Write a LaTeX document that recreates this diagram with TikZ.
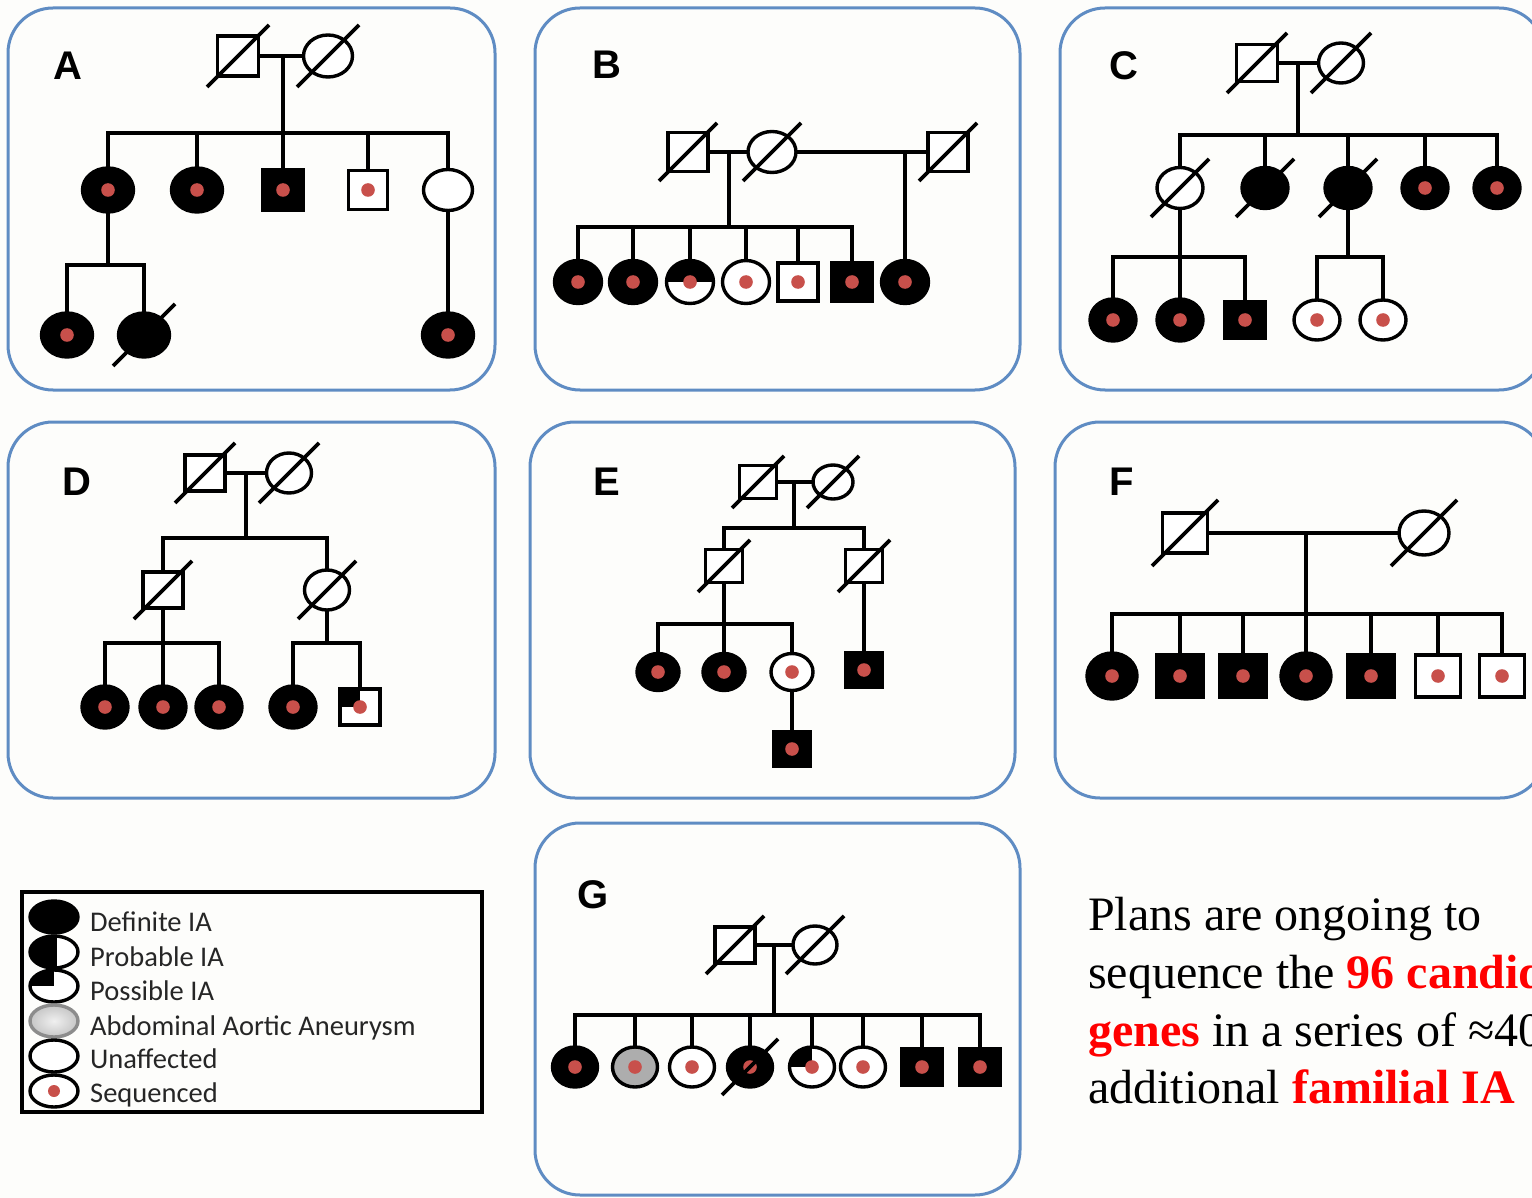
\documentclass[tikz,border=0pt]{standalone}
\usepackage{fontspec}
\setmainfont{Liberation Serif}
\newfontfamily\labfont{Liberation Sans}
\newfontfamily\legfont{Carlito}
\usetikzlibrary{shapes.geometric,calc}
\definecolor{dotred}{RGB}{200,80,75}
\definecolor{panelblue}{RGB}{95,140,195}
\definecolor{bgc}{RGB}{253,253,251}
\definecolor{aaaline}{RGB}{140,140,140}
\newcommand\dslash[2]{\draw[ln] ([shift={(-#2,#2)}]#1.center) -- ([shift={(#2,-#2)}]#1.center);}
\begin{document}
\begin{tikzpicture}[x=1pt,y=-1pt,
  ln/.style={line width=3.8pt, line join=miter},
  panel/.style={draw=panelblue, line width=3pt, rounded corners=45pt},
  sym/.style={draw=black, line width=3.4pt, inner sep=0pt, outer sep=0pt, fill=white},
  fe/.style 2 args={sym, ellipse, minimum width=#1, minimum height=#2},
  ma/.style 2 args={sym, rectangle, minimum width=#1, minimum height=#2},
  aff/.style={fill=black},
  sq/.style={path picture={\fill[dotred] (path picture bounding box.center) circle (6.8pt);}},
  possq/.style={path picture={\fill[black] (path picture bounding box.center) rectangle (path picture bounding box.north west);
                \fill[dotred] (path picture bounding box.center) circle (6.8pt);}},
  tophalf/.style={path picture={\fill[black] (path picture bounding box.west) rectangle (path picture bounding box.north east);
                \fill[dotred] (path picture bounding box.center) circle (6.8pt);}},
  lefthalf/.style={path picture={\fill[black] ([xshift=3pt]path picture bounding box.south west) rectangle ([xshift=3pt]path picture bounding box.north);
                \fill[black] (path picture bounding box.south west) rectangle ([xshift=3pt]path picture bounding box.north west);}},
  quad/.style={path picture={\fill[black] (path picture bounding box.center) rectangle (path picture bounding box.north west);}},
  lab/.style={font=\labfont\bfseries\fontsize{40}{40}\selectfont, inner sep=0pt},
  legtxt/.style={font=\legfont\fontsize{28.5}{30}\selectfont, text=black!85, inner sep=0pt, anchor=base west},
  big/.style={font=\fontsize{48}{58}\selectfont, inner sep=0pt, anchor=base west},
]
\useasboundingbox (0,0) rectangle (1532,1198);
\clip (0,0) rectangle (1532,1198);
\fill[bgc] (0,0) rectangle (1532,1198);

% ---------- panels ----------
\draw[panel] (8,8) rectangle (495,390);
\draw[panel] (535,8) rectangle (1020,390);
\draw[panel] (1060,8) rectangle (1544,390);
\draw[panel] (8,422) rectangle (495,798);
\draw[panel] (530,422) rectangle (1015,798);
\draw[panel] (1055,422) rectangle (1545,798);
\draw[panel] (535,823) rectangle (1020,1195);

\node[lab] (labA) at (68,66) {A};
\node[lab] (labB) at (607,65) {B};
\node[lab] (labC) at (1124,66) {C};
\node[lab] (labD) at (77,482) {D};
\node[lab] (labE) at (607,482) {E};
\node[lab] (labF) at (1122,482) {F};
\node[lab] (labG) at (593,895) {G};

% ---------- A ----------
\node[ma={41}{40}] (Af) at (238,56) {};
\node[fe={49}{42}] (Am) at (328,56) {};
\dslash{Af}{31} \dslash{Am}{31}
\draw[ln] (Af.east) -- (Am.west);
\coordinate (Amar) at (283,56);
\coordinate (Asib) at (283,133);
\node[fe={51}{44},aff,sq] (A1) at (108,190) {};
\node[fe={51}{44},aff,sq] (A2) at (197,190) {};
\node[ma={41}{41},aff,sq] (A3) at (283,190) {};
\node[ma={39}{39},sq] (A4) at (368,190) {};
\node[fe={49}{41}] (A5) at (448,190) {};
\draw[ln] (Amar) -- (A3.north);
\draw[ln] (A1.north) |- (Asib) -| (A5.north);
\draw[ln] (A2.north) -- (A2.north |- Asib);
\draw[ln] (A4.north) -- (A4.north |- Asib);
\coordinate (A1sib) at (108,265);
\node[fe={51}{44},aff,sq] (A11) at (67,335) {};
\node[fe={51}{44},aff] (A12) at (144,335) {};
\dslash{A12}{31}
\draw[ln] (A1.south) -- (A1sib);
\draw[ln] (A11.north) |- (A1sib) -| (A12.north);
\node[fe={51}{44},aff,sq] (A51) at (448,335) {};
\draw[ln] (A5.south) -- (A51.north);

% ---------- B ----------
\node[ma={40}{39}] (Bf) at (688,152) {};
\node[fe={48}{41}] (Bm) at (772,152) {};
\node[ma={40}{39}] (Bh) at (948,152) {};
\dslash{Bf}{29} \dslash{Bm}{29} \dslash{Bh}{29}
\draw[ln] (Bf.east) -- (Bm.west);
\draw[ln] (Bm.east) -- (Bh.west);
\coordinate (Bmar) at (729,152);
\coordinate (Bmar2) at (905,152);
\coordinate (Bsib) at (729,227);
\node[fe={47}{43},aff,sq] (B1) at (578,282) {};
\node[fe={47}{43},aff,sq] (B2) at (633,282) {};
\node[fe={47}{43},tophalf] (B3) at (690,282) {};
\node[fe={47}{43},sq] (B4) at (746,282) {};
\node[ma={40}{38},sq] (B5) at (798,282) {};
\node[ma={40}{38},aff,sq] (B6) at (852,282) {};
\node[fe={47}{43},aff,sq] (B7) at (905,282) {};
\draw[ln] (Bmar) -- (Bsib);
\draw[ln] (B1.north) |- (Bsib) -| (B6.north);
\foreach \n in {B2,B3,B4,B5} \draw[ln] (\n.north) -- (\n.north |- Bsib);
\draw[ln] (Bmar2) -- (B7.north);

% ---------- C ----------
\node[ma={41}{37}] (Cf) at (1257,63) {};
\node[fe={45}{40}] (Cm) at (1341,63) {};
\dslash{Cf}{30} \dslash{Cm}{30}
\draw[ln] (Cf.east) -- (Cm.west);
\coordinate (Cmar) at (1298,63);
\coordinate (Csib) at (1298,135);
\node[fe={46}{41}] (C1) at (1180,188) {};
\node[fe={46}{41},aff] (C2) at (1265,188) {};
\node[fe={46}{41},aff] (C3) at (1348,188) {};
\node[fe={46}{41},aff,sq] (C4) at (1425,188) {};
\node[fe={46}{41},aff,sq] (C5) at (1497,188) {};
\dslash{C1}{29} \dslash{C2}{29} \dslash{C3}{29}
\draw[ln] (Cmar) -- (Csib);
\draw[ln] (C1.north) |- (Csib) -| (C5.north);
\foreach \n in {C2,C3,C4} \draw[ln] (\n.north) -- (\n.north |- Csib);
\coordinate (C1sib) at (1180,257);
\node[fe={46}{42},aff,sq] (C11) at (1113,320) {};
\node[fe={46}{42},aff,sq] (C12) at (1180,320) {};
\node[ma={40}{37},aff,sq] (C13) at (1245,320) {};
\draw[ln] (C1.south) -- (C12.north);
\draw[ln] (C11.north) |- (C1sib) -| (C13.north);
\coordinate (C3sib) at (1348,257);
\node[fe={46}{40},sq] (C31) at (1317,320) {};
\node[fe={46}{40},sq] (C32) at (1383,320) {};
\draw[ln] (C3.south) -- (C3sib);
\draw[ln] (C31.north) |- (C3sib) -| (C32.north);

% ---------- D ----------
\node[ma={40}{36}] (Df) at (205,473) {};
\node[fe={45}{40}] (Dm) at (289,473) {};
\dslash{Df}{30} \dslash{Dm}{30}
\draw[ln] (Df.east) -- (Dm.west);
\coordinate (Dmar) at (246,473);
\coordinate (Dsib) at (246,538);
\node[ma={40}{36}] (D1) at (163,590) {};
\node[fe={45}{40}] (D2) at (327,590) {};
\dslash{D1}{29} \dslash{D2}{29}
\draw[ln] (Dmar) -- (Dsib);
\draw[ln] (D1.north) |- (Dsib) -| (D2.north);
\coordinate (D1sib) at (163,643);
\node[fe={46}{42},aff,sq] (D11) at (105,707) {};
\node[fe={46}{42},aff,sq] (D12) at (163,707) {};
\node[fe={46}{42},aff,sq] (D13) at (219,707) {};
\draw[ln] (D1.south) -- (D12.north);
\draw[ln] (D11.north) |- (D1sib) -| (D13.north);
\coordinate (D2sib) at (327,643);
\node[fe={46}{42},aff,sq] (D21) at (293,707) {};
\node[ma={40}{36},possq] (D22) at (360,707) {};
\draw[ln] (D2.south) -- (D2sib);
\draw[ln] (D21.north) |- (D2sib) -| (D22.north);

% ---------- E ----------
\node[ma={37}{33}] (Ef) at (758,482) {};
\node[fe={40}{34}] (Em) at (833,482) {};
\dslash{Ef}{26} \dslash{Em}{26}
\draw[ln] (Ef.east) -- (Em.west);
\coordinate (Emar) at (794,482);
\coordinate (Esib) at (794,528);
\node[ma={37}{33}] (E1) at (724,566) {};
\node[ma={37}{33}] (E2) at (864,566) {};
\dslash{E1}{26} \dslash{E2}{26}
\draw[ln] (Emar) -- (Esib);
\draw[ln] (E1.north) |- (Esib) -| (E2.north);
\coordinate (E1sib) at (724,624);
\node[fe={42}{37},aff,sq] (E11) at (658,672) {};
\node[fe={42}{37},aff,sq] (E12) at (724,672) {};
\node[fe={42}{37},sq] (E13) at (792,672) {};
\draw[ln] (E1.south) -- (E12.north);
\draw[ln] (E11.north) |- (E1sib) -| (E13.north);
\node[ma={37}{35},aff,sq] (E131) at (792,749) {};
\draw[ln] (E13.south) -- (E131.north);
\node[ma={36}{34},aff,sq] (E21) at (864,670) {};
\draw[ln] (E2.south) -- (E21.north);

% ---------- F ----------
\node[ma={45}{40}] (Ff) at (1185,533) {};
\node[fe={50}{44}] (Fm) at (1424,533) {};
\dslash{Ff}{33} \dslash{Fm}{33}
\draw[ln] (Ff.east) -- (Fm.west);
\coordinate (Fmar) at (1306,533);
\coordinate (Fsib) at (1306,614);
\node[fe={50}{46},aff,sq] (F1) at (1112,676) {};
\node[ma={46}{42},aff,sq] (F2) at (1180,676) {};
\node[ma={46}{42},aff,sq] (F3) at (1243,676) {};
\node[fe={50}{46},aff,sq] (F4) at (1306,676) {};
\node[ma={46}{42},aff,sq] (F5) at (1371,676) {};
\node[ma={45}{42},sq] (F6) at (1438,676) {};
\node[ma={45}{42},sq] (F7) at (1502,676) {};
\draw[ln] (Fmar) -- (F4.north);
\draw[ln] (F1.north) |- (Fsib) -| (F7.north);
\foreach \n in {F2,F3,F5,F6} \draw[ln] (\n.north) -- (\n.north |- Fsib);

% ---------- G ----------
\node[ma={40}{36}] (Gf) at (735,945) {};
\node[fe={44}{38}] (Gm) at (815,945) {};
\dslash{Gf}{29} \dslash{Gm}{29}
\draw[ln] (Gf.east) -- (Gm.west);
\coordinate (Gmar) at (774,945);
\coordinate (Gsib) at (774,1015);
\node[fe={45}{40},aff,sq] (G1) at (575,1067) {};
\node[fe={45}{40},fill=black!32,sq] (G2) at (635,1067) {};
\node[fe={45}{40},sq] (G3) at (692,1067) {};
\node[fe={45}{40},aff,sq] (G4) at (750,1067) {};
\node[fe={45}{40},possq] (G5) at (812,1067) {};
\node[fe={45}{40},sq] (G6) at (863,1067) {};
\node[ma={41}{37},aff,sq] (G7) at (922,1067) {};
\node[ma={41}{37},aff,sq] (G8) at (980,1067) {};
\dslash{G4}{28}
\draw[ln] (Gmar) -- (Gsib);
\draw[ln] (G1.north) |- (Gsib) -| (G8.north);
\foreach \n in {G2,G3,G4,G5,G6,G7} \draw[ln] (\n.north) -- (\n.north |- Gsib);

% ---------- legend ----------
\draw[line width=3.5pt] (22,892) rectangle (482,1112);
\node[fe={48}{32},aff] (L1) at (54,917) {};
\node[fe={48}{32},lefthalf] (L2) at (54,952) {};
\node[fe={48}{32},quad] (L3) at (54,986) {};
\node[sym, ellipse, minimum width=48, minimum height=32, draw=aaaline, inner color=gray!12, outer color=gray!45] (L4) at (54,1021) {};
\node[fe={48}{32}] (L5) at (54,1056) {};
\node[fe={48}{32},path picture={\fill[dotred] (path picture bounding box.center) circle (6pt);}] (L6) at (54,1091) {};
\node[legtxt] (T1) at (90,931) {Definite IA};
\node[legtxt] (T2) at (90,966) {Probable IA};
\node[legtxt] (T3) at (90,1000) {Possible IA};
\node[legtxt] (T4) at (90,1035) {Abdominal Aortic Aneurysm};
\node[legtxt] (T5) at (90,1068) {Unaffected};
\node[legtxt] (T6) at (90,1102) {Sequenced};

% ---------- text ----------
\node[big] (t1) at (1088,930) {Plans are ongoing to};
\node[big] (t2) at (1088,988) {sequence the \textcolor{red}{\textbf{96 candidate}}};
\node[big] (t3) at (1088,1046) {\textcolor{red}{\textbf{genes}} in a series of ≈40};
\node[big] (t4) at (1088,1103) {additional \textcolor{red}{\textbf{familial IA}}};
\end{tikzpicture}
\end{document}
